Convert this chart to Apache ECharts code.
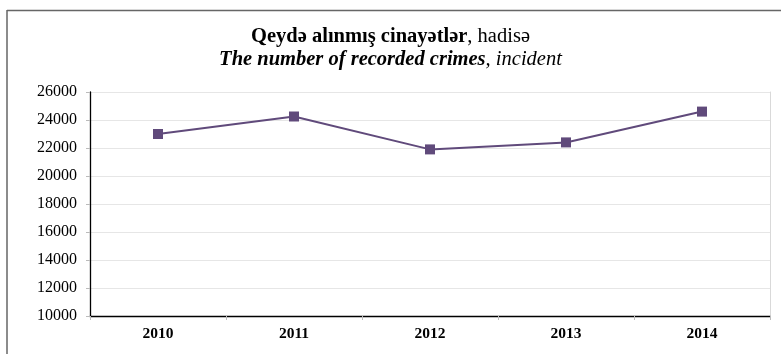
<!DOCTYPE html>
<html>
<head>
<meta charset="utf-8">
<script src="https://cdn.jsdelivr.net/npm/echarts@6/dist/echarts.min.js"></script>
<style>
  html, body { margin: 0; padding: 0; background: #fff; }
  #chart { width: 781px; height: 354px; }
</style>
</head>
<body>
<div id="chart"></div>
<script>
  // data
  var years = ['2010', '2011', '2012', '2013', '2014'];
  var crimes = [23000, 24250, 21900, 22400, 24600];
  var yMin = 10000, yMax = 26000, yStep = 2000;

  var serif = '"Liberation Serif", "DejaVu Serif", serif';
  var chart = echarts.init(document.getElementById('chart'));

  var option = {
    backgroundColor: '#fff',
    animation: false,
    title: {
      left: 'center',
      top: 20,
      text: '{b|Qeydə alınmış cinayətlər}{n|, hadisə}\n{bi|The number of recorded crimes}{i|, incident}',
      textStyle: {
        fontWeight: 'normal',
        rich: {
          b: {fontFamily: serif, fontSize: 20.5, fontWeight: 'bold', color: '#000', lineHeight: 23},
          n: {fontFamily: serif, fontSize: 20.5, fontWeight: 'normal', color: '#000', lineHeight: 23},
          bi: {fontFamily: serif, fontSize: 20.5, fontWeight: 'bold', fontStyle: 'italic', color: '#000', lineHeight: 23},
          i: {fontFamily: serif, fontSize: 20.5, fontWeight: 'normal', fontStyle: 'italic', color: '#000', lineHeight: 23}
        }
      }
    },
    grid: {left: 90, right: 11, top: 92, bottom: 38},
    xAxis: {
      type: 'category',
      data: years,
      boundaryGap: true,
      axisLine: {lineStyle: {color: '#000', width: 1.3}},
      axisTick: {show: true, length: 4, lineStyle: {color: '#bbb'}},
      axisLabel: {fontFamily: serif, fontSize: 15.5, fontWeight: 'bold', color: '#000', margin: 10}
    },
    yAxis: [
      {
        type: 'value',
        min: yMin,
        max: yMax,
        interval: yStep,
        axisLine: {show: true, lineStyle: {color: '#000', width: 1.3}},
        axisTick: {show: true, length: 4, lineStyle: {color: '#bbb'}},
        axisLabel: {
          fontFamily: serif, fontSize: 16, color: '#000', margin: 13,
          formatter: function (v) { return String(v); }
        },
        splitLine: {show: true, lineStyle: {color: '#e6e6e6', width: 1}}
      },
      {
        // thin gray line on the right edge of the plot
        type: 'value',
        position: 'right',
        min: yMin,
        max: yMax,
        interval: yStep,
        axisLine: {show: true, lineStyle: {color: '#d9d9d9', width: 1}},
        axisTick: {show: false},
        axisLabel: {show: false},
        splitLine: {show: false}
      }
    ],
    series: [
      {
        name: 'crimes',
        type: 'line',
        data: crimes,
        symbol: 'rect',
        symbolSize: 10,
        lineStyle: {color: '#604A7B', width: 2},
        itemStyle: {color: '#604A7B'}
      }
    ],
    graphic: [
      {type: 'line', shape: {x1: 7, y1: 10.5, x2: 781, y2: 10.5}, style: {stroke: '#666', lineWidth: 1.5}},
      {type: 'line', shape: {x1: 7, y1: 10, x2: 7, y2: 354}, style: {stroke: '#666', lineWidth: 1.5}}
    ]
  };

  chart.setOption(option);
  window.addEventListener('resize', function () {
    chart.resize();
  });
</script>
</body>
</html>
